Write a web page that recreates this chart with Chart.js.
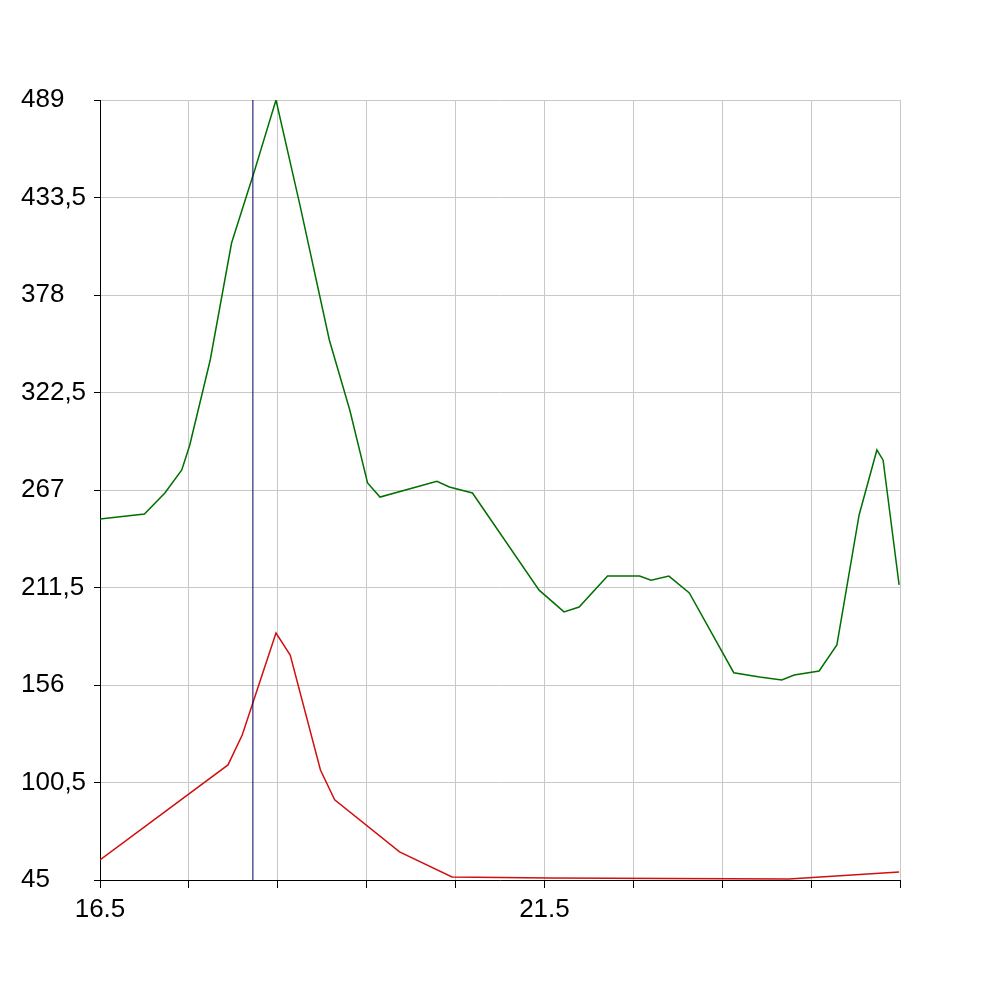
<!DOCTYPE html>
<html>
<head>
<script src="https://cdn.jsdelivr.net/npm/chart.js@4"></script>
<style>body{margin:0;background:#fff}</style>
</head>
<body>
<div style="width:1000px;height:1000px"><canvas id="c"></canvas></div>
<script>
const greenX = [16.5,17.0,17.23,17.42,17.51,17.74,17.98,18.24,18.48,18.75,19.08,19.31,19.51,19.65,20.29,20.43,20.69,21.44,21.72,21.89,22.21,22.57,22.70,22.90,23.13,23.63,23.92,24.17,24.31,24.59,24.79,25.04,25.24,25.31,25.49];
const greenY = [250.5,253.3,265.3,278.4,292.6,341,407.6,449,489,429,352.4,312.5,271,263,272,268.7,265.3,210,197.6,200.4,218,218,215.6,218,208.4,163,160.6,158.9,161.7,164,178.8,252.8,289.8,284,213];
const redX = [16.5,17.94,18.10,18.48,18.64,18.98,19.14,19.87,20.46,21.56,24.25,25.49];
const redY = [56.4,110.5,127.5,185.6,173,107.6,90.6,61,46.7,46.1,45.6,49.6];
const markerX = 18.22;
const xTicks = [16.5,17.5,18.5,19.5,20.5,21.5,22.5,23.5,24.5,25.5];
const yTicks = [45,100.5,156,211.5,267,322.5,378,433.5,489];

const pts = (xs, ys) => xs.map((x, i) => ({x: x, y: ys[i]}));

new Chart('c', {
	type: 'line',
	data: {
		datasets: [
			{data: [{x: markerX, y: 45}, {x: markerX, y: 489}], borderColor: '#000060', borderWidth: 1, pointRadius: 0},
			{data: pts(greenX, greenY), borderColor: '#007000', borderWidth: 1.5, pointRadius: 0, tension: 0},
			{data: pts(redX, redY), borderColor: '#d01010', borderWidth: 1.5, pointRadius: 0, tension: 0}
		]
	},
	options: {
		animation: false,
		responsive: true,
		maintainAspectRatio: false,
		layout: {padding: {top: 100, right: 100, left: 21, bottom: 0}},
		plugins: {legend: {display: false}, tooltip: {enabled: false}},
		scales: {
			x: {
				type: 'linear', min: 16.5, max: 25.5,
				afterBuildTicks: a => { a.ticks = xTicks.map(v => ({value: v})); },
				afterFit: a => { a.height = 120; },
				grid: {color: '#c8c8c8', tickLength: 8, tickColor: '#000'},
				border: {color: '#000'},
				ticks: {
					color: '#000', font: {family: 'Liberation Sans', size: 26}, maxRotation: 0, autoSkip: false, padding: 6,
					callback: v => (Math.abs((v - 16.5) % 5) < 1e-6) ? v.toFixed(1) : ''
				}
			},
			y: {
				min: 45, max: 489,
				afterBuildTicks: a => { a.ticks = yTicks.map(v => ({value: v})); },
				afterFit: a => { a.width = 79; },
				grid: {color: '#c8c8c8', tickLength: 6, tickColor: '#000'},
				border: {color: '#000'},
				ticks: {
					color: '#000', font: {family: 'Liberation Sans', size: 26}, crossAlign: 'far', padding: 4,
					callback: v => String(v).replace('.', ',')
				}
			}
		}
	}
});
</script>
</body>
</html>
